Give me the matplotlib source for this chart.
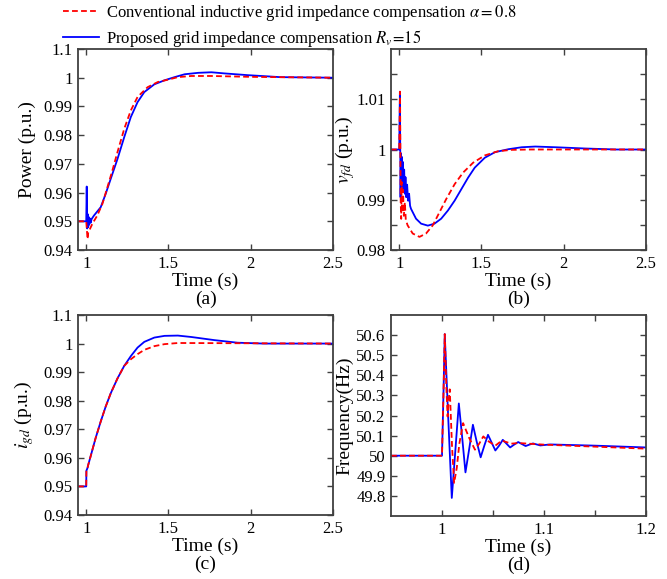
import matplotlib
matplotlib.use("Agg")
import matplotlib.pyplot as plt
from matplotlib.lines import Line2D

plt.rcParams['font.family'] = ['Liberation Serif', 'DejaVu Serif']
plt.rcParams['mathtext.fontset'] = 'stix'

# values
# (a) power
a_t_blue = [0.95, 1.0, 1.003, 1.006, 1.009, 1.012, 1.015, 1.018, 1.022, 1.027, 1.033, 1.047, 1.088, 1.118,
            1.149, 1.19, 1.231, 1.271, 1.312, 1.353, 1.414, 1.476, 1.537, 1.598, 1.68, 1.761, 1.84, 1.98, 2.18, 2.5]
a_p_blue = [0.95, 0.95, 0.9621, 0.9475, 0.9525, 0.948, 0.9515, 0.9488, 0.951, 0.9495, 0.9508, 0.952, 0.9549, 0.9595,
            0.9648, 0.9717, 0.9793, 0.9863, 0.9915, 0.995, 0.9977, 0.9991, 1.0002, 1.0012, 1.0017, 1.0019, 1.0015,
            1.0009, 1.0002, 1.0]
a_t_red = [0.95, 1.0, 1.004, 1.008, 1.012, 1.02, 1.037, 1.067, 1.098, 1.129, 1.159, 1.19, 1.231, 1.271, 1.312,
           1.373, 1.435, 1.496, 1.557, 1.639, 1.761, 2.0, 2.5]
a_p_red = [0.95, 0.95, 0.947, 0.9438, 0.946, 0.947, 0.9491, 0.952, 0.956, 0.9619, 0.9677, 0.9741, 0.9822, 0.9886,
           0.9933, 0.9967, 0.9985, 0.9993, 1.0002, 1.0006, 1.0006, 1.0003, 1.0]

# (b) v_fd
b_t_blue = [0.95, 1.0, 1.004, 1.008, 1.011, 1.014, 1.017, 1.020, 1.023, 1.026, 1.030, 1.034, 1.038, 1.043, 1.048,
            1.054, 1.060, 1.066, 1.0716, 1.102, 1.133, 1.174, 1.214, 1.255, 1.296, 1.337, 1.378, 1.419, 1.459,
            1.52, 1.582, 1.664, 1.745, 1.827, 1.949, 2.13, 2.32, 2.5]
b_v_blue = [1.0, 1.0, 1.0115, 0.9905, 0.9992, 0.9915, 0.9985, 0.992, 0.9975, 0.9915, 0.996, 0.9912, 0.9945, 0.9905,
            0.993, 0.9898, 0.9912, 0.9888, 0.9882, 0.98623, 0.98524, 0.98485, 0.98524, 0.98623, 0.98786, 0.98983,
            0.99213, 0.99442, 0.99639, 0.99836, 0.99947, 1.00006, 1.00045, 1.00059, 1.00045, 1.0002, 1.0, 1.0]
b_t_red = [0.95, 1.0, 1.005, 1.009, 1.012, 1.015, 1.019, 1.023, 1.028, 1.034, 1.040, 1.051, 1.082, 1.123, 1.163,
           1.204, 1.245, 1.286, 1.337, 1.388, 1.449, 1.52, 1.602, 1.684, 1.8, 2.5]
b_v_red = [1.0, 1.0, 1.0115, 0.9895, 0.9862, 0.9935, 0.9875, 0.992, 0.9868, 0.9895, 0.986, 0.98491, 0.98328,
           0.98261, 0.98328, 0.98491, 0.98753, 0.99016, 0.99311, 0.9954, 0.99737, 0.99882, 0.99967, 0.99993, 1.0, 1.0]

# (c) i_gd
c_t_blue = [0.95, 1.0, 1.001, 1.008, 1.012, 1.0265, 1.057, 1.088, 1.118, 1.149, 1.19, 1.231, 1.271, 1.312, 1.353,
            1.414, 1.476, 1.557, 1.639, 1.78, 1.92, 2.08, 2.5]
c_i_blue = [0.95, 0.95, 0.9555, 0.9565, 0.9575, 0.9605, 0.9669, 0.9727, 0.9779, 0.9826, 0.9878, 0.9922, 0.9956,
            0.9986, 1.0006, 1.0021, 1.0027, 1.0028, 1.0023, 1.0012, 1.0003, 1.0, 1.0]
c_t_red = [0.95, 1.0, 1.001, 1.008, 1.012, 1.0265, 1.057, 1.088, 1.118, 1.149, 1.19, 1.231, 1.271, 1.312, 1.353,
           1.414, 1.476, 1.557, 2.5]
c_i_red = [0.95, 0.95, 0.9555, 0.9565, 0.9575, 0.9605, 0.9669, 0.9727, 0.9779, 0.9826, 0.9878, 0.9922, 0.9945,
           0.9963, 0.9978, 0.9991, 0.9998, 1.0002, 1.0]

# (d) frequency
d_t_blue = [0.95, 1.0, 1.0014, 1.0027, 1.006, 1.0096, 1.013, 1.0165, 1.0198, 1.023, 1.0267, 1.0303, 1.034, 1.0379,
            1.0415, 1.0451, 1.0487, 1.0523, 1.056, 1.0596, 1.0632, 1.0668, 1.0707, 1.0747, 1.0783, 1.082, 1.0856,
            1.0892, 1.0928, 1.0964, 1.106, 1.15, 1.2]
d_f_blue = [50.0, 50.0, 50.3, 50.605, 50.2, 49.79, 50.02, 50.26, 50.09, 49.917, 50.035, 50.154, 50.07, 49.992,
            50.05, 50.104, 50.065, 50.026, 50.05, 50.079, 50.06, 50.041, 50.055, 50.068, 50.058, 50.048, 50.055,
            50.061, 50.056, 50.051, 50.056, 50.05, 50.041]
d_t_red = [0.95, 1.0, 1.0014, 1.0027, 1.0042, 1.0055, 1.0066, 1.0076, 1.0098, 1.0119, 1.0145, 1.017, 1.0207,
           1.0265, 1.0323, 1.0365, 1.0405, 1.046, 1.0523, 1.0586, 1.068, 1.075, 1.1, 1.15, 1.2]
d_f_red = [50.0, 50.0, 50.3, 50.605, 50.35, 50.195, 50.28, 50.33, 50.05, 49.865, 49.94, 50.06, 50.162, 50.09,
           50.03, 50.06, 50.096, 50.07, 50.05, 50.075, 50.06, 50.063, 50.055, 50.045, 50.035]

label_red = r"Conventional inductive grid impedance compensation $\alpha=0.8$"
label_blue = r"Proposed grid impedance compensation $R_v\!=\!15$"

RED = "#ff0000"
BLUE = "#0000ff"
FRAME = "#404040"

fig = plt.figure(figsize=(6.67, 5.79), dpi=100)

# axes boxes measured in pixels of the 667x579 reference
def add_axes(l, t, r, b):
    return fig.add_axes([l / 667, 1 - b / 579, (r - l) / 667, (b - t) / 579])

ax_a = add_axes(78, 49, 333, 250)
ax_b = add_axes(391, 49, 646, 250)
ax_c = add_axes(78, 315, 333, 515)
ax_d = add_axes(391, 315, 646, 516)

def style(ax):
    for s in ax.spines.values():
        s.set_color(FRAME)
        s.set_linewidth(1.3)
    ax.tick_params(direction="in", top=True, right=True, length=4, width=1.0,
                   color=FRAME, labelsize=12, pad=4)

def draw(ax, tb, yb, tr, yr):
    ax.plot(tb, yb, color=BLUE, lw=1.3)
    ax.plot(tr, yr, color=RED, lw=1.3, dashes=(3.2, 1.8))

draw(ax_a, a_t_blue, a_p_blue, a_t_red, a_p_red)
draw(ax_b, b_t_blue, b_v_blue, b_t_red, b_v_red)
draw(ax_c, c_t_blue, c_i_blue, c_t_red, c_i_red)
draw(ax_d, d_t_blue, d_f_blue, d_t_red, d_f_red)

long_ticks = [1, 1.5, 2, 2.5]
long_labels = ["1", "1.5", "2", "2.5"]
pu_ticks = [0.94, 0.95, 0.96, 0.97, 0.98, 0.99, 1.0, 1.01]
pu_labels = ["0.94", "0.95", "0.96", "0.97", "0.98", "0.99", "1", "1.1"]

for ax in (ax_a, ax_c):
    ax.set_xlim(0.95, 2.5)
    ax.set_ylim(0.94, 1.01)
    ax.set_xticks(long_ticks, long_labels)
    ax.set_yticks(pu_ticks, pu_labels)

ax_b.set_xlim(0.95, 2.5)
ax_b.set_ylim(0.98, 1.02)
ax_b.set_xticks(long_ticks, long_labels)
ax_b.set_yticks([0.98, 0.985, 0.99, 0.995, 1.0, 1.005, 1.01, 1.015],
                ["0.98", "", "0.99", "", "1", "", "1.01", ""])

ax_d.set_xlim(0.95, 1.2)
ax_d.set_ylim(49.7, 50.7)
ax_d.set_xticks([1.0, 1.05, 1.1, 1.15, 1.2], ["1", "", "1.1", "", "1.2"])
ax_d.set_yticks([49.8, 49.9, 50.0, 50.1, 50.2, 50.3, 50.4, 50.5, 50.6],
                ["49.8", "49.9", "50", "50.1", "50.2", "50.3", "50.4", "50.5", "50.6"])

ax_a.set_ylabel("Power (p.u.)", fontsize=14)
ax_b.set_ylabel(r"$v_{fd}$ (p.u.)", fontsize=14)
ax_c.set_ylabel(r"$i_{gd}$ (p.u.)", fontsize=14)
ax_d.set_ylabel("Frequency(Hz)", fontsize=14)
ax_a.yaxis.set_label_coords(-0.163, 0.5)
ax_b.yaxis.set_label_coords(-0.135, 0.5)
ax_c.yaxis.set_label_coords(-0.163, 0.5)
ax_d.yaxis.set_label_coords(-0.147, 0.5)

for ax, tag in zip((ax_a, ax_b, ax_c, ax_d), "abcd"):
    ax.set_xlabel(f"Time (s)\n({tag})", fontsize=14, linespacing=1.0, labelpad=1)
    style(ax)

handles = [Line2D([], [], color=RED, lw=1.3, dashes=(3.2, 1.8)),
           Line2D([], [], color=BLUE, lw=1.3)]
fig.legend(handles, [label_red, label_blue], loc="upper left", bbox_to_anchor=(0.094, 0.995),
           frameon=False, fontsize=12, handlelength=2.2, handletextpad=0.42,
           labelspacing=0.3, borderpad=0, borderaxespad=0)

fig.savefig("out.png", dpi=100)
